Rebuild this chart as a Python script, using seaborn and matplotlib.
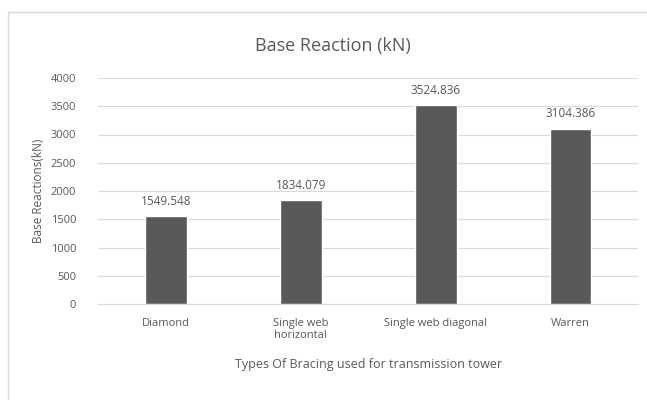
import matplotlib
matplotlib.use("Agg")
import matplotlib.pyplot as plt
import matplotlib.patches as patches
import seaborn as sns
import pandas as pd

bracing = ["Diamond", "Single web\nhorizontal", "Single web diagonal", "Warren"]
reaction = [1549.548, 1834.079, 3524.836, 3104.386]
yticks = [0, 500, 1000, 1500, 2000, 2500, 3000, 3500, 4000]

df = pd.DataFrame({"bracing": bracing, "reaction": reaction})

sns.set_style("white")
plt.rcParams["font.family"] = ["Open Sans", "DejaVu Sans"]
txt = "#595959"

fig = plt.figure(figsize=(6.47, 4.0), dpi=100)
ax = fig.add_axes([0.152, 0.24, 0.834, 0.565])

sns.barplot(data=df, x="bracing", y="reaction", color="#595959", width=0.31,
            saturation=1, ax=ax, zorder=3)

ax.set_ylim(0, 4000)
ax.set_yticks(yticks)
ax.yaxis.grid(True, color="#d9d9d9", linewidth=0.8, zorder=0)
ax.xaxis.grid(False)
for s in ["top", "right", "left"]:
    ax.spines[s].set_visible(False)
ax.spines["bottom"].set_color("#d9d9d9")
ax.tick_params(axis="both", length=0, labelsize=8, labelcolor=txt)
ax.tick_params(axis="y", pad=16)
ax.tick_params(axis="x", pad=10)

for c in ax.containers:
    ax.bar_label(c, labels=[f"{v:.3f}" for v in reaction], padding=6,
                 fontsize=8.5, color=txt)

ax.set_xlabel("Types Of Bracing used for transmission tower", fontsize=9,
              color=txt, labelpad=12)
ax.set_ylabel("Base Reactions(kN)", fontsize=8.5, color=txt, labelpad=4)
fig.text(0.515, 0.885, "Base Reaction (kN)", ha="center", va="center",
         fontsize=13, color=txt)

fig.patches.append(patches.Rectangle((8 / 647, -0.05), 1.2, 1 - 12 / 400 + 0.05,
                                     transform=fig.transFigure, fill=False,
                                     edgecolor="#d9d9d9", linewidth=1))

fig.savefig("out.png", dpi=100)
